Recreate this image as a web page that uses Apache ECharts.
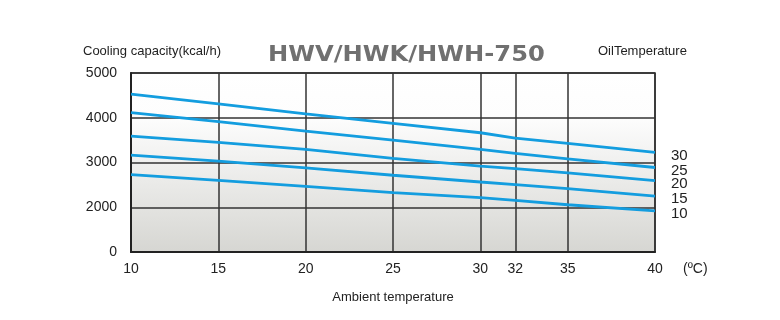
<!DOCTYPE html>
<html><head><meta charset="utf-8">
<script src="https://cdn.jsdelivr.net/npm/echarts@6/dist/echarts.min.js"></script>
<style>html,body{margin:0;padding:0;background:#fff}#c{width:780px;height:320px}</style>
</head><body><div id="c"></div>
<script>
// Ambient temperature (°C) at which capacities were read
const ambientTemps = [10, 15, 20, 25, 30, 32, 35, 40];
// Oil temperature series names
const oilTemps = ['30', '25', '20', '15', '10'];
// Cooling capacity (kcal/h) per oil temperature
const cap30 = [4528, 4310, 4085, 3876, 3665, 3546, 3427, 3225];
const cap25 = [4115, 3913, 3703, 3501, 3292, 3202, 3081, 2888];
const cap20 = [3591, 3449, 3292, 3090, 2917, 2865, 2766, 2596];
const cap15 = [3164, 3030, 2879, 2715, 2564, 2506, 2416, 2250];
const cap10 = [2730, 2602, 2467, 2326, 2213, 2153, 2056, 1921];
// x tick labels
const xTicks = [10, 15, 20, 25, 30, 32, 35, 40];
// y axis: broken axis, bottom gridline (1000 on the scale) is labelled "0"
const yTickLabels = {1000: '0', 2000: '2000', 3000: '3000', 4000: '4000', 5000: '5000'};

const capSeries = [cap30, cap25, cap20, cap15, cap10];
const font = "'Liberation Sans', Arial, sans-serif";

const chart = echarts.init(document.getElementById('c'), null, {renderer: 'canvas'});
chart.setOption({
  animation: false,
  backgroundColor: '#ffffff',
  grid: {
    left: 131, right: 125, top: 73, bottom: 68,
    show: true,
    borderColor: '#222', borderWidth: 1.5,
    backgroundColor: {
      type: 'linear', x: 0, y: 0, x2: 0, y2: 1,
      colorStops: [
        {offset: 0, color: '#ffffff'},
        {offset: 0.25, color: '#fdfdfd'},
        {offset: 1, color: '#d6d6d2'}
      ]
    }
  },
  title: [
    {text: 'Cooling capacity(kcal/h)', left: 83, top: 45, padding: 0,
     textStyle: {fontFamily: font, fontSize: 13, fontWeight: 'normal', color: '#222'}},
    {text: 'OilTemperature', left: 598, top: 45, padding: 0,
     textStyle: {fontFamily: font, fontSize: 13, fontWeight: 'normal', color: '#222'}},
    {text: '(ºC)', left: 683, top: 262, padding: 0,
     textStyle: {fontFamily: font, fontSize: 14, fontWeight: 'normal', color: '#222'}}
  ],
  graphic: [{
    type: 'text', left: 268, top: 44, scaleX: 1.1,
    style: {text: 'HWV/HWK/HWH-750', fill: '#707070',
            font: "bold 22px 'DejaVu Sans', sans-serif"}
  }],
  xAxis: {
    type: 'value', min: 10, max: 40,
    name: 'Ambient temperature', nameLocation: 'middle', nameGap: 39,
    nameTextStyle: {fontFamily: font, fontSize: 13, color: '#222'},
    axisLine: {show: true, lineStyle: {color: '#222', width: 2}},
    axisTick: {show: false, customValues: xTicks},
    axisLabel: {customValues: xTicks, fontFamily: font, fontSize: 14, color: '#222', margin: 10},
    splitLine: {show: true, lineStyle: {color: '#333', width: 1.5}}
  },
  yAxis: {
    type: 'value', min: 1000, max: 5000, interval: 1000,
    axisLine: {show: true, lineStyle: {color: '#222', width: 2}},
    axisTick: {show: false},
    axisLabel: {fontFamily: font, fontSize: 14, color: '#222', margin: 14,
                formatter: v => yTickLabels[v] !== undefined ? yTickLabels[v] : ''},
    splitLine: {show: true, lineStyle: {color: '#333', width: 1.5}}
  },
  series: oilTemps.map((name, i) => ({
    name: name,
    type: 'line',
    data: ambientTemps.map((t, j) => [t, capSeries[i][j]]),
    showSymbol: false,
    lineStyle: {color: '#139ddf', width: 2.8},
    itemStyle: {color: '#139ddf'},
    endLabel: {show: true, formatter: '{a}', distance: 16, offset: [0, 3],
               fontFamily: font, fontSize: 15, color: '#222'},
    z: 3
  }))
});
</script>
</body></html>
